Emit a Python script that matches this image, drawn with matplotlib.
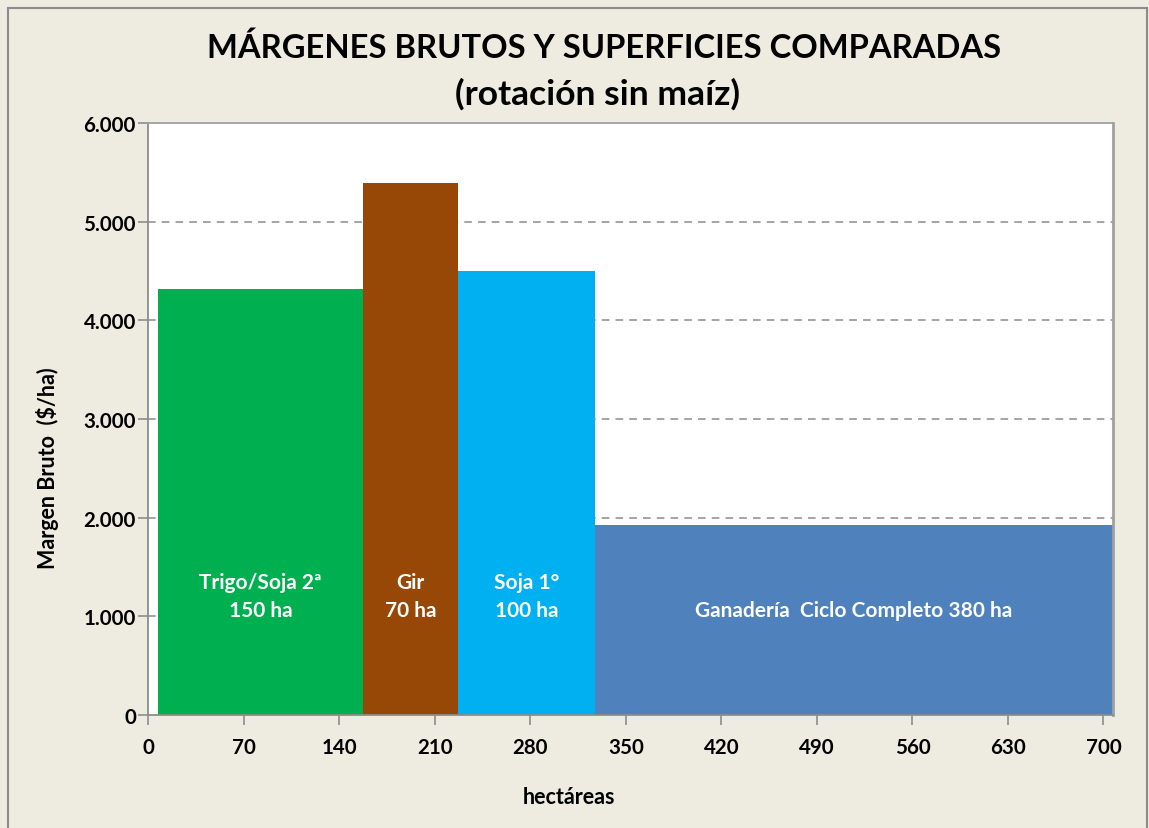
import matplotlib
matplotlib.use("Agg")
import matplotlib.pyplot as plt
from matplotlib.patches import Rectangle
from matplotlib.ticker import FuncFormatter

# gross margin ($/ha) and area (ha) per activity
actividades = ["Trigo/Soja 2ª", "Gir", "Soja 1°", "Ganadería  Ciclo Completo"]
hectareas = [150, 70, 100, 380]
margen = [4320, 5390, 4500, 1930]
colores = ["#00B050", "#974706", "#00B0F0", "#4F81BD"]

x_ticks = list(range(0, 701, 70))
y_ticks = list(range(0, 6001, 1000))

plt.rcParams["font.family"] = ["Lato", "DejaVu Sans"]
plt.rcParams["font.weight"] = "bold"

fondo = "#EEECE1"
fig = plt.figure(figsize=(11.49, 8.29), dpi=100, facecolor=fondo)
ax = fig.add_axes([0.1292, 0.1363, 0.9687 - 0.1292, 0.8504 - 0.1363])
ax.set_facecolor("white")

# bars sit side by side, each as wide as its area
inicio = 7
izq = inicio
for nombre, ha, mb, col in zip(actividades, hectareas, margen, colores):
    ax.bar(izq, mb, width=ha, align="edge", color=col, zorder=2)
    cx = izq + ha / 2
    if ha < 300:
        ax.text(cx, 1350, nombre, color="white", ha="center", va="center",
                fontsize=15, fontweight="bold", zorder=3)
        ax.text(cx, 1066, "%d ha" % ha, color="white", ha="center",
                va="center", fontsize=15, fontweight="bold", zorder=3)
    else:
        ax.text(cx, 1066, "%s %d ha" % (nombre, ha), color="white",
                ha="center", va="center", fontsize=15, fontweight="bold",
                zorder=3)
    izq += ha

ax.set_xlim(0, 707)
ax.set_ylim(0, 6000)
ax.set_xticks(x_ticks)
ax.set_yticks(y_ticks)
ax.yaxis.set_major_formatter(
    FuncFormatter(lambda v, p: "{:,.0f}".format(v).replace(",", ".")))

for y in y_ticks[1:-1]:
    ax.axhline(y, color="#8C8C8C", lw=1.1, ls=(0, (5, 4)), zorder=1)

for s in ax.spines.values():
    s.set_color("#8C8C8C")
    s.set_linewidth(1.3)
ax.spines["top"].set_color("#A0A0A0")
ax.spines["right"].set_color("#A0A0A0")
ax.spines["right"].set_linewidth(2)

ax.tick_params(axis="both", colors="#8C8C8C", length=7, width=1.2,
               labelcolor="black", labelsize=14.8)
ax.tick_params(axis="x", pad=9)
ax.tick_params(axis="y", pad=2)
for lbl in ax.get_xticklabels() + ax.get_yticklabels():
    lbl.set_fontweight("bold")

fig.text(0.5257, 0.942, "MÁRGENES BRUTOS Y SUPERFICIES COMPARADAS",
         ha="center", va="center", fontsize=23.6, fontweight="bold")
fig.text(0.520, 0.886, "(rotación sin maíz)", ha="center", va="center",
         fontsize=25.5, fontweight="bold")

fig.text(0.495, 0.0385, "hectáreas", ha="center", va="center",
         fontsize=15.5, fontweight="bold")
fig.text(0.041, 0.435, "Margen Bruto  ($/ha)", ha="center", va="center",
         rotation=90, fontsize=15.5, fontweight="bold")

# chart frame
fig.patches.append(Rectangle((8 / 1149, -0.01), 1139 / 1149, 1 - 8.5 / 829 + 0.01,
                             transform=fig.transFigure, fill=False,
                             edgecolor="#8C8C8C", lw=1.5))

fig.savefig("out.png", dpi=100, facecolor=fondo)
